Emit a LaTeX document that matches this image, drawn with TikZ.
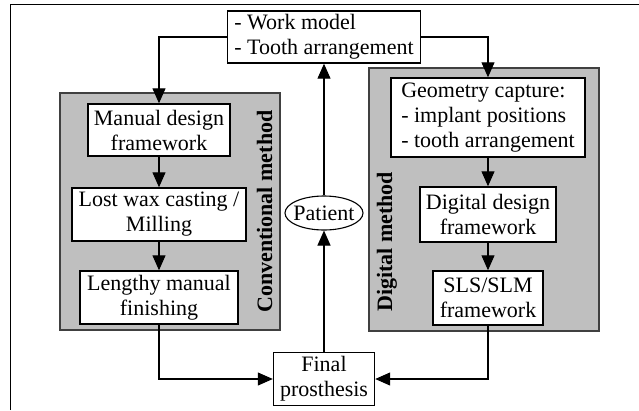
\documentclass[tikz,border=0pt]{standalone}
\usepackage{fontspec}
\setmainfont{Liberation Serif}
\usetikzlibrary{arrows.meta,shapes.geometric}
\begin{document}
\begin{tikzpicture}[x=1pt,y=-1pt,
  txt/.style={font=\fontsize{22}{25}\selectfont},
  box/.style={txt, draw=black, line width=1.4pt, fill=white, inner sep=0pt, align=center},
  leftbox/.style={box, align=left},
  panel/.style={draw=black!75, line width=1.1pt, fill=black!25, inner sep=0pt},
  panellabel/.style={font=\fontsize{22}{25}\selectfont\bfseries, rotate=90, anchor=base west, inner sep=0pt},
  flow/.style={line width=1.1pt, -{Triangle[length=15pt,width=13pt]}}
]
\useasboundingbox (0,0) rectangle (639,410);
\fill[white] (0,0) rectangle (639,410);

% frame lines
\draw[line width=1pt] (10,410) -- (10,4.5) -- (639,4.5);

% method panels
\node[panel, minimum width=220pt, minimum height=237pt] (convpanel) at (170,211.5) {};
\node[panel, minimum width=230pt, minimum height=263pt] (digipanel) at (484,199.5) {};
\node[panellabel] (convlabel) at (272,313) {Conventional method};
\node[panellabel] (digilabel) at (392,312) {Digital method};

% steps
\node[leftbox, minimum width=193pt, minimum height=52pt] (work) at (324,37) {- Work model\\- Tooth arrangement};
\node[box, minimum width=142pt, minimum height=52pt] (manual) at (159,130) {Manual design\\framework};
\node[box, minimum width=174pt, minimum height=53pt] (lost) at (159,214.5) {Lost wax casting /\\Milling};
\node[box, minimum width=158pt, minimum height=53pt] (lengthy) at (159,297.5) {Lengthy manual\\finishing};
\node[leftbox, minimum width=194pt, minimum height=79pt] (geom) at (488,117.5) {Geometry capture:\\- implant positions\\- tooth arrangement};
\node[box, minimum width=136pt, minimum height=55pt] (digital) at (488,214.5) {Digital design\\framework};
\node[box, minimum width=110pt, minimum height=54pt] (sls) at (488,298) {SLS/SLM\\framework};
\node[box, ellipse, line width=1.1pt, minimum width=78pt, minimum height=34pt] (patient) at (324,213) {\makebox[0pt]{Patient}};
\node[box, minimum width=101pt, minimum height=53pt] (final) at (324,379) {Final\\prosthesis};

% connectors
\draw[flow] (work.west) -| (manual.north);
\draw[flow] (manual) -- (lost);
\draw[flow] (lost) -- (lengthy);
\draw[flow] (work.east) -| (geom.north);
\draw[flow] (geom) -- (digital);
\draw[flow] (digital) -- (sls);
\draw[flow] (lengthy.south) |- (final.west);
\draw[flow] (sls.south) |- (final.east);
\draw[flow] (final) -- (patient);
\draw[flow] (patient) -- (work);
\end{tikzpicture}
\end{document}
